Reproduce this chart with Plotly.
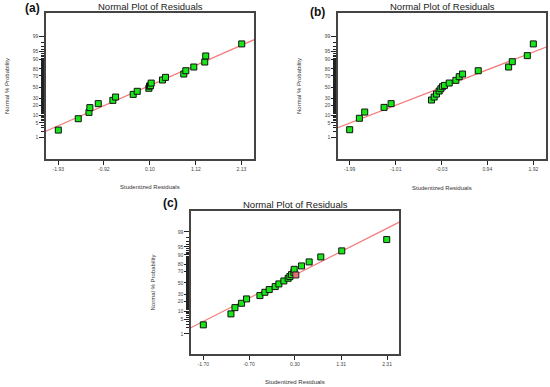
import plotly.graph_objects as go
from statistics import NormalDist

W, H = 550, 387
nd = NormalDist()

def z(p):
    return nd.inv_cdf(p / 100.0)

# ---------------- data ----------------
# Panel (a)
a_resid = [-1.93, -1.487, -1.25, -1.23, -1.044, -0.72, -0.66, -0.269, -0.18, 0.078,
           0.093, 0.115, 0.13, 0.38, 0.447, 0.853, 0.898, 1.075, 1.318, 1.34, 2.138]
a_prob = [2.4, 7.3, 12.3, 17.3, 22.4, 27.2, 32.5, 37.0, 42.5, 48.0,
          52.0, 52.8, 57.5, 63.0, 67.5, 72.8, 77.6, 82.4, 87.7, 92.5, 97.7]

# Panel (b)
b_resid = [-1.99, -1.784, -1.67, -1.258, -1.108, -0.248, -0.191, -0.142, -0.085, -0.049,
           -0.014, 0.029, 0.129, 0.271, 0.342, 0.413, 0.747, 1.394, 1.472, 1.792, 1.92]
b_prob = [2.5, 7.6, 12.6, 17.6, 22.4, 27.7, 32.5, 37.6, 43.0, 47.2,
          50.9, 53.3, 57.6, 62.4, 68.6, 72.8, 77.6, 82.4, 88.0, 92.7, 97.7]

# Panel (c)
c_resid = [-1.70, -1.097, -1.010, -0.865, -0.756, -0.465, -0.356, -0.262, -0.131, -0.051,
           0.058, 0.152, 0.189, 0.225, 0.276, 0.283, 0.443, 0.610, 0.864, 1.322, 2.303]
c_prob = [2.8, 7.9, 13.0, 17.7, 23.3, 28.2, 33.5, 38.1, 43.4, 48.2,
          53.6, 58.4, 61.4, 64.8, 68.7, 73.3, 78.1, 83.1, 88.2, 92.8, 97.6]
c_sel_resid = [0.319]
c_sel_prob = [64.2]

# reference lines (mean, sd)
a_line = (0.012, 1.096)
b_line = (-0.015, 1.192)
c_line = (-0.045, 0.945)

# tick labels
a_xticks = [-1.93, -0.92, 0.10, 1.12, 2.13]
b_xticks = [-1.99, -1.01, -0.03, 0.94, 1.92]
c_xticks = [-1.70, -0.70, 0.30, 1.31, 2.31]
y_major = [1, 5, 10, 20, 30, 50, 70, 80, 90, 95, 99]
y_minor = list(range(1, 100))

# axis ranges
a_xrange = [-2.203, 2.41]
b_xrange = [-2.239, 2.190]
c_xrange = [-1.969, 2.571]
ab_yrange = [-3.31, 3.42]
c_yrange = [-3.24, 3.28]

# ---------------- layout helpers ----------------
def px_x(x):
    return x / W

def px_y(y):
    return 1 - y / H

panels = [
    dict(n="", resid=a_resid, prob=a_prob, line=a_line, xt=a_xticks, xr=a_xrange, yr=ab_yrange,
         box=(46, 254, 13, 159), tag="(a)", tagpos=(32, 8), title_y=6.5, xtitle_y=187, ytitle_x=7),
    dict(n="2", resid=b_resid, prob=b_prob, line=b_line, xt=b_xticks, xr=b_xrange, yr=ab_yrange,
         box=(338, 546, 13, 159), tag="(b)", tagpos=(317, 12), title_y=6.5, xtitle_y=188, ytitle_x=299),
    dict(n="3", resid=c_resid, prob=c_prob, line=c_line, xt=c_xticks, xr=c_xrange, yr=c_yrange,
         box=(191, 399, 211, 354), tag="(c)", tagpos=(170, 203), title_y=204, xtitle_y=382, ytitle_x=152),
]

fig = go.Figure()
annotations = []
font = "Liberation Sans, Arial, sans-serif"

for p in panels:
    n = p["n"]
    xa, ya = "x" + n, "y" + n
    x0, x1, y0, y1 = p["box"]
    # fitted line
    m, s = p["line"]
    lx = [p["xr"][0] - 0.5, p["xr"][1] + 0.5]
    fig.add_trace(go.Scatter(x=lx, y=[(v - m) / s for v in lx], mode="lines",
                             line=dict(color="#f47a7a", width=1.2),
                             xaxis=xa, yaxis=ya, showlegend=False, hoverinfo="skip"))
    # points
    fig.add_trace(go.Scatter(x=p["resid"], y=[z(v) for v in p["prob"]], mode="markers",
                             marker=dict(symbol="square", size=6, color="#19e619",
                                         line=dict(color="#111111", width=1)),
                             xaxis=xa, yaxis=ya, showlegend=False))
    if n == "3":
        fig.add_trace(go.Scatter(x=c_sel_resid, y=[z(v) for v in c_sel_prob], mode="markers",
                                 marker=dict(symbol="square", size=6, color="#e87070",
                                             line=dict(color="#222222", width=1)),
                                 xaxis=xa, yaxis=ya, showlegend=False))
    axis_common = dict(showline=True, linecolor="#444444", linewidth=1.5, mirror=True,
                       showgrid=False, zeroline=False, ticks="outside", tickcolor="#222222",
                       tickfont=dict(family=font, size=5, color="#444444"))
    fig.layout["xaxis" + n] = dict(axis_common, domain=[px_x(x0), px_x(x1)], range=p["xr"],
                                   anchor=ya, tickmode="array", tickvals=p["xt"],
                                   ticktext=["%.2f" % v for v in p["xt"]], ticklen=4, tickwidth=1)
    fig.layout["yaxis" + n] = dict(axis_common, domain=[px_y(y1), px_y(y0)], range=p["yr"],
                                   anchor=xa, tickmode="array", tickvals=[z(v) for v in y_major],
                                   ticktext=[str(v) for v in y_major], ticklen=5, tickwidth=1,
                                   minor=dict(tickmode="array", tickvals=[z(v) for v in y_minor],
                                              ticklen=3, tickwidth=1, tickcolor="#222222",
                                              ticks="outside", showgrid=False))
    cx = (x0 + x1) / 2
    annotations.append(dict(text="Normal Plot of Residuals", x=px_x(cx), y=px_y(p["title_y"]),
                            xref="paper", yref="paper", showarrow=False, xanchor="center",
                            yanchor="middle", font=dict(family=font, size=9.5, color="#222222")))
    annotations.append(dict(text="<b>%s</b>" % p["tag"], x=px_x(p["tagpos"][0]), y=px_y(p["tagpos"][1]),
                            xref="paper", yref="paper", showarrow=False, xanchor="center",
                            yanchor="middle", font=dict(family=font, size=12, color="#111111")))
    annotations.append(dict(text="Studentized Residuals", x=px_x(cx), y=px_y(p["xtitle_y"]),
                            xref="paper", yref="paper", showarrow=False, xanchor="center",
                            yanchor="middle", font=dict(family=font, size=6, color="#333333")))
    annotations.append(dict(text="Normal % Probability", x=px_x(p["ytitle_x"]), y=px_y((y0 + y1) / 2),
                            xref="paper", yref="paper", showarrow=False, xanchor="center",
                            yanchor="middle", textangle=-90,
                            font=dict(family=font, size=6, color="#333333")))

fig.update_layout(width=W, height=H, margin=dict(l=0, r=0, t=0, b=0),
                  paper_bgcolor="white", plot_bgcolor="white",
                  annotations=annotations, showlegend=False)

fig.write_html("out.html", config={"displayModeBar": False})

# remove the default page margin so the figure sits at the window's top-left corner
with open("out.html", "r", encoding="utf-8") as f:
    html = f.read()
html = html.replace("<head>", "<head><style>html,body{margin:0;padding:0;overflow:hidden;}</style>", 1)
with open("out.html", "w", encoding="utf-8") as f:
    f.write(html)
